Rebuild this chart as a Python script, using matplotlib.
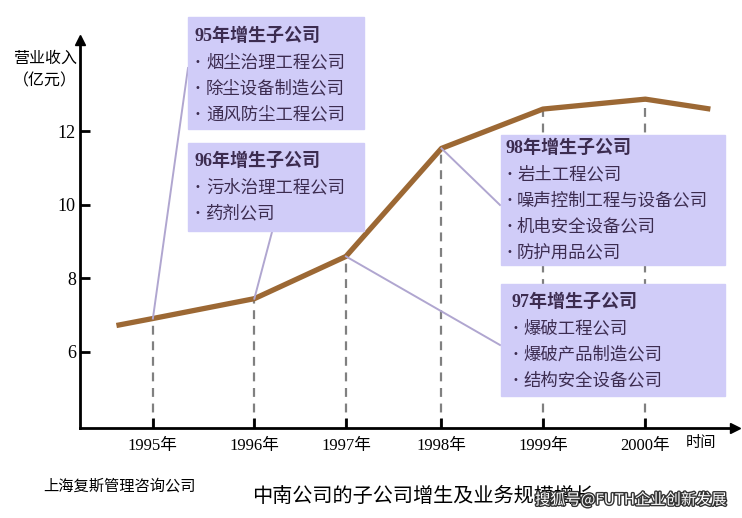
import matplotlib.pyplot as plt
from matplotlib import patheffects
from matplotlib.patches import Rectangle

plt.rcParams["font.family"] = ["Noto Sans CJK SC", "DejaVu Sans"]

# revenue line (亿元); x positions follow the uneven spacing of the drawn time axis
line_x = [1994.63, 1995.0, 1996.03, 1996.96, 1997.93, 1998.96, 2000.0, 2000.66]
line_y = [6.71, 6.90, 7.44, 8.59, 11.53, 12.60, 12.87, 12.60]

year_pos = [1995.0, 1996.03, 1996.96, 1997.93, 1998.96, 2000.0]
year_labels = ["1995年", "1996年", "1997年", "1998年", "1999年", "2000年"]
year_vals = [6.90, 7.44, 8.59, 11.53, 12.60, 12.87]

y_ticks = [6, 8, 10, 12]

box_titles = ["95年增生子公司", "96年增生子公司", "98年增生子公司", "97年增生子公司"]
box_items = [
    ["烟尘治理工程公司", "除尘设备制造公司", "通风防尘工程公司"],
    ["污水治理工程公司", "药剂公司"],
    ["岩土工程公司", "噪声控制工程与设备公司", "机电安全设备公司", "防护用品公司"],
    ["爆破工程公司", "爆破产品制造公司", "结构安全设备公司"],
]

W, H = 742, 518
SERIF = ["Liberation Serif", "Noto Sans CJK SC"]
LINE_C = "#9c6834"
BOX_C = "#d0ccf8"
LEADER_C = "#b0a6d0"
TEXT_C = "#3c2c50"


def fx(x):
    return x / W


def fy(y):
    return 1 - y / H


fig = plt.figure(figsize=(W / 100, H / 100), dpi=100)
ax = fig.add_axes([fx(80), fy(428), fx(735) - fx(80), fy(40) - fy(428)])
ax.set_xlim(1994.26, 2000.91)
ax.set_ylim(3.92, 14.48)

for s in ["top", "right"]:
    ax.spines[s].set_visible(False)
for s in ["left", "bottom"]:
    ax.spines[s].set_linewidth(2)
ax.plot(1, 0, ">k", ms=7, transform=ax.transAxes, clip_on=False)
ax.plot(0, 1, "^k", ms=7, transform=ax.transAxes, clip_on=False)

ax.set_yticks(y_ticks)
ax.set_yticklabels([str(v) for v in y_ticks], family=SERIF, fontsize=13)
ax.set_xticks(year_pos)
ax.set_xticklabels(year_labels, family=SERIF, fontsize=12)
ax.tick_params(direction="in", length=7, width=2, pad=7)
ax.tick_params(axis="y", pad=3)

for xp, yv in zip(year_pos, year_vals):
    ax.plot([xp, xp], [3.92, yv], color="#808080", lw=1.6, ls=(0, (4, 3)), zorder=1)

ax.plot(line_x, line_y, color=LINE_C, lw=3.8, solid_capstyle="butt", zorder=3)

# leader lines from each year's point to its box
leaders = [(0, (188, 68)), (1, (272, 232)), (3, (500, 205)), (2, (500, 345))]
for i, (px, py) in leaders:
    x0, y0 = ax.transData.transform((year_pos[i], year_vals[i]))
    fig.add_artist(plt.Line2D([x0 / fig.dpi / fig.get_figwidth(), fx(px)],
                              [y0 / fig.dpi / fig.get_figheight(), fy(py)],
                              color=LEADER_C, lw=1.4, zorder=2))

boxes = [(188, 17, 364, 129, 195, 36), (188, 143, 364, 231, 195, 161),
         (501, 135, 725, 265, 506, 148), (501, 284, 725, 396, 512, 302)]
for (x0, y0, x1, y1, tx, ty), title, items in zip(boxes, box_titles, box_items):
    fig.add_artist(Rectangle((fx(x0), fy(y1)), fx(x1) - fx(x0), fy(y0) - fy(y1),
                             transform=fig.transFigure, color=BOX_C, zorder=4))
    fig.text(fx(tx), fy(ty), title, family=SERIF, weight="bold", fontsize=13,
             color=TEXT_C, va="center", zorder=5)
    for k, item in enumerate(items):
        yk = fy(ty + 26 * (k + 1))
        fig.text(fx(tx), yk, "•", family="DejaVu Sans", fontsize=7, color=TEXT_C,
                 va="center", zorder=5)
        fig.text(fx(tx + 11), yk, item, fontsize=12.5, color=TEXT_C, va="center", zorder=5)

fig.text(fx(45), fy(58), "营业收入", fontsize=11.5, ha="center", va="center")
fig.text(fx(45), fy(81), "（亿元）", fontsize=11.5, ha="center", va="center")
fig.text(fx(701), fy(443), "时间", fontsize=11, ha="center", va="center")

fig.text(fx(43), fy(486), "上海复斯管理咨询公司", fontsize=11, va="center")
fig.text(fx(252), fy(496), "中南公司的子公司增生及业务规模增长", fontsize=14.5, va="center")
fig.text(fx(535), fy(500), "搜狐号@FUTH企业创新发展", fontsize=11, va="center",
         color="white", path_effects=[patheffects.withStroke(linewidth=2, foreground="#333333")])

fig.savefig("out.png", dpi=100)
